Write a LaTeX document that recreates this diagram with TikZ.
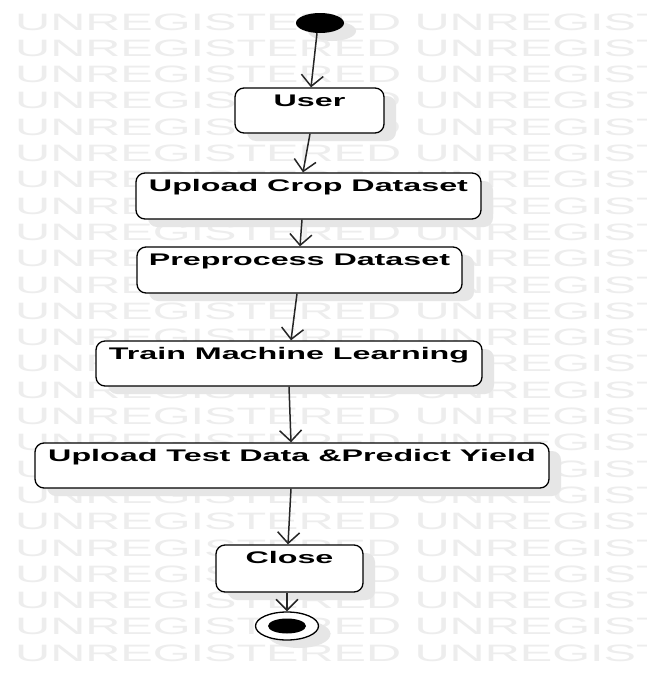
\documentclass[tikz,border=0pt]{standalone}
\usepackage{fontspec}
\setmainfont{Liberation Sans}
\usetikzlibrary{arrows.meta,shapes.geometric,shadows}
\definecolor{wmark}{HTML}{EDEDED}
\definecolor{shad}{HTML}{E6E6E6}
\newcommand{\boxtxt}[1]{\fontsize{16.8}{20}\selectfont\bfseries\scalebox{1.92}[1]{#1}}
\newcommand{\wmtxt}[1]{\fontsize{23.7}{28}\selectfont\scalebox{2.05}[1]{#1}}
\tikzset{
  act/.style={draw=black, line width=1.3pt, fill=white, rounded corners=9pt,
    inner sep=0pt, drop shadow={shadow xshift=12pt, shadow yshift=-8pt, fill=shad, opacity=1}},
  lbl/.style={anchor=base, inner sep=0pt, text=black},
  flow/.style={draw=black!85, line width=1.5pt, -{Straight Barb[length=11pt,width=22pt,line width=1.5pt]}},
  wm/.style={anchor=base west, inner sep=0pt, text=wmark},
}
\begin{document}
\begin{tikzpicture}[x=1pt,y=-1pt]
\useasboundingbox (0,0) rectangle (647,688);
\fill[white] (0,0) rectangle (647,688);
\begin{scope}
\clip (0,0) rectangle (647,688);
\foreach \i in {0,...,24}{
  \node[wm] (wm\i) at (15,{30+26.3*\i}) {\wmtxt{UNREGISTERED UNREGIST}};
}
\end{scope}
% initial node
\node[ellipse, fill=black, minimum width=48pt, minimum height=20pt, inner sep=0pt,
  drop shadow={shadow xshift=12pt, shadow yshift=-8pt, fill=shad, opacity=1}] (init) at (320,23) {};
% activities
\node[act, minimum width=149pt, minimum height=45pt] (user) at (309.5,110.5) {};
\node[act, minimum width=345pt, minimum height=46pt] (crop) at (308.5,196) {};
\node[act, minimum width=325pt, minimum height=46pt] (prep) at (299.5,270) {};
\node[act, minimum width=386pt, minimum height=45pt] (train) at (289,363.5) {};
\node[act, minimum width=514pt, minimum height=45pt] (test) at (292,465.5) {};
\node[act, minimum width=147pt, minimum height=47pt] (close) at (289.5,568.5) {};
% labels
\node[lbl] (userT) at ([yshift=-19.5pt]user.north) {\boxtxt{User}};
\node[lbl] (cropT) at ([yshift=-19.5pt]crop.north) {\boxtxt{Upload Crop Dataset}};
\node[lbl] (prepT) at ([yshift=-19.5pt]prep.north) {\boxtxt{Preprocess Dataset}};
\node[lbl] (trainT) at ([yshift=-19.5pt]train.north) {\boxtxt{Train Machine Learning}};
\node[lbl] (testT) at ([yshift=-19.5pt]test.north) {\boxtxt{Upload Test Data \&Predict Yield}};
\node[lbl] (closeT) at ([yshift=-19.5pt]close.north) {\boxtxt{Close}};
% final node
\node[ellipse, draw=black, line width=1.3pt, fill=white, minimum width=63pt, minimum height=28pt, inner sep=0pt,
  drop shadow={shadow xshift=12pt, shadow yshift=-8pt, fill=shad, opacity=1}] (final) at (287,626) {};
\node[ellipse, fill=black, minimum width=38pt, minimum height=15pt, inner sep=0pt] (finalin) at (final.center) {};
% flows
\draw[flow] ([xshift=-3pt]init.south) -- ([xshift=1.5pt]user.north);
\draw[flow] ([xshift=0.5pt]user.south) -- ([xshift=-5.5pt]crop.north);
\draw[flow] ([xshift=-6.5pt]crop.south) -- ([xshift=0.5pt]prep.north);
\draw[flow] ([xshift=-2.5pt]prep.south) -- ([xshift=2pt]train.north);
\draw[flow] (train.south) -- ([xshift=-1pt]test.north);
\draw[flow] ([xshift=-1pt]test.south) -- ([xshift=-1.5pt]close.north);
\draw[flow] ([xshift=-2.5pt]close.south) -- (final.north);
\end{tikzpicture}
\end{document}
